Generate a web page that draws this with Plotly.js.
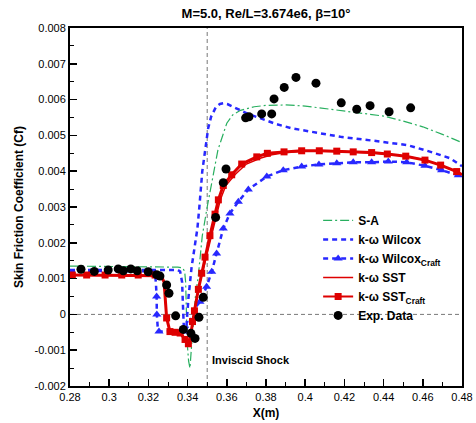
<!DOCTYPE html>
<html>
<head>
<meta charset="utf-8">
<script src="https://cdn.plot.ly/plotly-3.0.1.min.js"></script>
<style>html,body{margin:0;padding:0;background:#fff;}#chart{width:476px;height:423px;}</style>
</head>
<body>
<div id="chart"></div>
<script>
// ---- Data ----
const saX = [0.28,0.30,0.32,0.335,0.3375,0.3385,0.339,0.3393,0.3398,0.3405,0.3412,0.342,0.343,0.344,0.3455,0.3465,0.3475,0.350,0.3525,0.3555,0.360,0.363,0.367,0.374,0.38,0.39,0.40,0.41,0.42,0.43,0.44,0.45,0.46,0.47,0.48];
const saY = [0.00135,0.00134,0.00133,0.00132,0.0013,0.0012,0.0009,0.0,-0.0008,-0.0013,-0.0015,-0.0009,-0.0002,0.0005,0.0011,0.0016,0.0022,0.0030,0.0037,0.0046,0.00534,0.00557,0.0057,0.0058,0.00584,0.00585,0.00582,0.00575,0.00568,0.00562,0.00554,0.0054,0.00524,0.00503,0.0048];

const wilX = [0.28,0.30,0.32,0.335,0.3362,0.3372,0.3378,0.3382,0.3392,0.3405,0.342,0.3435,0.345,0.346,0.3475,0.349,0.3505,0.352,0.3545,0.3565,0.3585,0.3605,0.3635,0.367,0.37,0.378,0.385,0.393,0.40,0.41,0.418,0.435,0.452,0.464,0.474,0.48];
const wilY = [0.00124,0.00124,0.00124,0.00124,0.0012,0.0009,0.0,-0.0005,-0.0005,0.0005,0.0013,0.0019,0.0024,0.0030,0.0040,0.0046,0.0052,0.00552,0.0058,0.00588,0.0059,0.00587,0.0058,0.0057,0.00562,0.00545,0.00532,0.0052,0.00513,0.00504,0.00496,0.00485,0.00473,0.00454,0.00436,0.00414];

const wcX = [0.28,0.30,0.32,0.3232,0.3238,0.3242,0.3243,0.3248,0.3254,0.33,0.335,0.338,0.340,0.342,0.344,0.3463,0.3497,0.3523,0.3548,0.3582,0.3616,0.3659,0.371,0.3804,0.3888,0.3982,0.407,0.4161,0.4245,0.4339,0.4424,0.4518,0.4611,0.4696,0.4781,0.48];
const wcY = [0.00122,0.00122,0.00122,0.0012,0.0009,0.0005,0.0,-0.0004,-0.00048,-0.00048,-0.00048,-0.00046,-0.00035,-0.0001,0.0002,0.00035,0.00077,0.00119,0.0017,0.0024,0.00282,0.00315,0.00349,0.00385,0.00403,0.00413,0.00419,0.00422,0.00425,0.00425,0.00427,0.00425,0.00415,0.00403,0.00389,0.00385];
const wcMarkX = [0.3242,0.3243,0.3254,0.3463,0.3497,0.3523,0.3548,0.3582,0.3616,0.3659,0.371,0.3804,0.3888,0.3982,0.407,0.4161,0.4245,0.4339,0.4424,0.4518,0.4611,0.4696,0.4781];
const wcMarkY = [0.0005,0.0,-0.00048,0.00035,0.00077,0.00119,0.0017,0.0024,0.00282,0.00315,0.00349,0.00385,0.00403,0.00413,0.00419,0.00422,0.00425,0.00425,0.00427,0.00425,0.00415,0.00403,0.00389];

const sstX = [0.28,0.3265,0.328,0.3287,0.3293,0.331,0.3362,0.3387,0.3404,0.3415,0.3425,0.3435,0.3455,0.3475,0.3495,0.352,0.3548,0.3567,0.3595,0.3645,0.370,0.377,0.383,0.39,0.40,0.41,0.42,0.43,0.44,0.45,0.46,0.47,0.48];
const sstY = [0.00111,0.00109,0.0009,0.0004,-0.0001,-0.00048,-0.00052,-0.0007,-0.00082,-0.0006,-0.0002,0.0001,0.0007,0.00115,0.0016,0.0022,0.0028,0.0032,0.0036,0.00392,0.0042,0.00436,0.00446,0.00452,0.00456,0.00457,0.00455,0.00453,0.00449,0.00443,0.00433,0.00415,0.00392];

const scX = [0.28,0.2812,0.2885,0.2979,0.3064,0.3148,0.3234,0.3265,0.328,0.3287,0.3293,0.331,0.3336,0.3362,0.3387,0.3404,0.3415,0.3425,0.3435,0.3455,0.3472,0.3489,0.3514,0.354,0.3557,0.3582,0.3625,0.3676,0.3753,0.3807,0.3892,0.3982,0.4072,0.4161,0.4245,0.4339,0.4419,0.4513,0.4611,0.4691,0.4773,0.48];
const scY = [0.0011,0.0011,0.0011,0.0011,0.0011,0.0011,0.0011,0.00108,0.0009,0.0004,-0.0001,-0.00048,-0.0005,-0.00052,-0.0007,-0.00082,-0.0006,-0.0002,0.0001,0.0007,0.00115,0.0016,0.0022,0.0028,0.0032,0.0036,0.0039,0.0042,0.0044,0.0045,0.00454,0.00457,0.00457,0.00456,0.00454,0.00452,0.00448,0.00442,0.00431,0.00417,0.00399,0.0039];
const scMarkX = [0.2812,0.2885,0.2979,0.3064,0.3148,0.3234,0.3293,0.331,0.3336,0.3362,0.3387,0.3404,0.3425,0.3435,0.3455,0.3472,0.3489,0.3514,0.354,0.3557,0.3582,0.3625,0.3676,0.3753,0.3807,0.3892,0.3982,0.4072,0.4161,0.4245,0.4339,0.4419,0.4513,0.4611,0.4691,0.4773];
const scMarkY = [0.0011,0.0011,0.0011,0.0011,0.0011,0.0011,-0.0001,-0.00048,-0.0005,-0.00052,-0.0007,-0.00082,-0.0002,0.0001,0.0007,0.00115,0.0016,0.0022,0.0028,0.0032,0.0036,0.0039,0.0042,0.0044,0.0045,0.00454,0.00457,0.00457,0.00456,0.00454,0.00452,0.00448,0.00442,0.00431,0.00417,0.00399];

const expX = [0.2856,0.2924,0.2995,0.3046,0.3072,0.3110,0.3143,0.3199,0.3242,0.3259,0.3293,0.3305,0.3339,0.3378,0.3417,0.3438,0.3458,0.3480,0.3543,0.3582,0.3596,0.3696,0.3713,0.3778,0.3829,0.3841,0.3893,0.3953,0.4055,0.4184,0.4263,0.4331,0.4428,0.4538];
const expY = [0.00126,0.00120,0.00124,0.00127,0.00122,0.00127,0.00122,0.00119,0.00111,0.00107,0.00082,0.00059,-0.00004,-0.00042,-0.00053,-0.00067,-0.00008,0.00048,0.00271,0.00368,0.00406,0.00549,0.00552,0.00560,0.00560,0.00602,0.00634,0.00662,0.00646,0.00591,0.00573,0.00583,0.00566,0.00577];

const shockX = 0.35;
const xTickVals = [0.28,0.30,0.32,0.34,0.36,0.38,0.40,0.42,0.44,0.46,0.48];
const xTickText = ['0.28','0.3','0.32','0.34','0.36','0.38','0.4','0.42','0.44','0.46','0.48'];
const yTickVals = [-0.002,-0.001,0,0.001,0.002,0.003,0.004,0.005,0.006,0.007,0.008];
const yTickText = ['-0.002','-0.001','0','0.001','0.002','0.003','0.004','0.005','0.006','0.007','0.008'];

const seriesNames = ['S-A','k-ω Wilcox','k-ω Wilcox<sub>Craft</sub>','k-ω SST','k-ω SST<sub>Craft</sub>','Exp. Data'];

// ---- Styles ----
const FONT = 'Arial, "Liberation Sans", sans-serif';
const GREEN = 'rgb(40,175,95)';
const BLUE = 'rgb(40,40,255)';
const RED = 'rgb(222,0,0)';
const blueDash = '5px,4px';

const traces = [
  {x: saX, y: saY, mode:'lines', name: seriesNames[0], legendrank:1,
   line:{color:GREEN, width:1.2, dash:'9px,3px,2px,3px'}},
  {x: wilX, y: wilY, mode:'lines', name: seriesNames[1], legendrank:2,
   line:{color:BLUE, width:2.5, dash:blueDash}},
  {x: wcX, y: wcY, mode:'lines', showlegend:false, hoverinfo:'skip',
   line:{color:BLUE, width:2.5, dash:blueDash}},
  {x: wcMarkX, y: wcMarkY, mode:'markers', showlegend:false,
   marker:{symbol:'triangle-up', size:8, color:BLUE}},
  {x: [null], y: [null], mode:'lines+markers', name: seriesNames[2], legendrank:3,
   line:{color:BLUE, width:2.5, dash:blueDash}, marker:{symbol:'triangle-up', size:8, color:BLUE}},
  {x: sstX, y: sstY, mode:'lines', name: seriesNames[3], legendrank:4,
   line:{color:RED, width:1.5}},
  {x: scX, y: scY, mode:'lines', showlegend:false, hoverinfo:'skip',
   line:{color:RED, width:3}},
  {x: scMarkX, y: scMarkY, mode:'markers', showlegend:false,
   marker:{symbol:'square', size:7, color:RED}},
  {x: [null], y: [null], mode:'lines+markers', name: seriesNames[4], legendrank:5,
   line:{color:RED, width:2}, marker:{symbol:'square', size:7, color:RED}},
  {x: expX, y: expY, mode:'markers', name: seriesNames[5], legendrank:6,
   marker:{symbol:'circle', size:9, color:'black'}}
];

const axisCommon = {
  showline:true, linecolor:'black', linewidth:2, mirror:true,
  showgrid:false, zeroline:false,
  ticks:'inside', ticklen:7, tickwidth:1.5, tickcolor:'black',
  tickfont:{family:FONT, size:11, color:'black'}
};

const layout = {
  width:476, height:423,
  margin:{l:70, r:14, t:28, b:37, pad:0},
  paper_bgcolor:'white', plot_bgcolor:'white',
  font:{family:FONT, color:'black'},
  showlegend:true,
  title:{text:'<b>M=5.0, Re/L=3.674e6, β=10°</b>', font:{family:FONT, size:13, color:'black'},
         x:0.5, xanchor:'center', y:0.968, yanchor:'middle', yref:'container', xref:'paper'},
  xaxis: Object.assign({}, axisCommon, {
    range:[0.28,0.48], tickvals:xTickVals, ticktext:xTickText,
    minor:{ticks:'inside', ticklen:4, tickwidth:1, tickcolor:'black', dtick:0.01, tick0:0.28, showgrid:false},
    title:{text:'<b>X(m)</b>', font:{family:FONT, size:12, color:'black'}, standoff:6}
  }),
  yaxis: Object.assign({}, axisCommon, {
    range:[-0.002,0.008], tickvals:yTickVals, ticktext:yTickText,
    minor:{ticks:'inside', ticklen:4, tickwidth:1, tickcolor:'black', dtick:0.0005, tick0:0, showgrid:false},
    title:{text:'<b>Skin Friction Coefficient (Cf)</b>', font:{family:FONT, size:12, color:'black'}, standoff:8}
  }),
  legend:{x:0.633, y:0.503, xanchor:'left', yanchor:'top', bgcolor:'rgba(0,0,0,0)',
          font:{family:FONT, size:12, color:'black', weight:'bold'}, itemwidth:30, tracegroupgap:0},
  shapes:[
    {type:'line', xref:'paper', x0:0, x1:1, yref:'y', y0:0, y1:0,
     line:{color:'rgb(120,120,120)', width:1, dash:'4px,3px'}, layer:'below'},
    {type:'line', xref:'x', x0:shockX, x1:shockX, yref:'paper', y0:0, y1:1,
     line:{color:'rgb(120,120,120)', width:1, dash:'4px,3px'}, layer:'below'}
  ],
  annotations:[
    {xref:'x', x:shockX, yref:'y', y:-0.00128, xanchor:'left', yanchor:'middle', xshift:3,
     text:'<b>Inviscid Shock</b>', showarrow:false, font:{family:FONT, size:11, color:'black'}}
  ]
};

Plotly.newPlot('chart', traces, layout, {displayModeBar:false, staticPlot:true});
</script>
</body>
</html>
